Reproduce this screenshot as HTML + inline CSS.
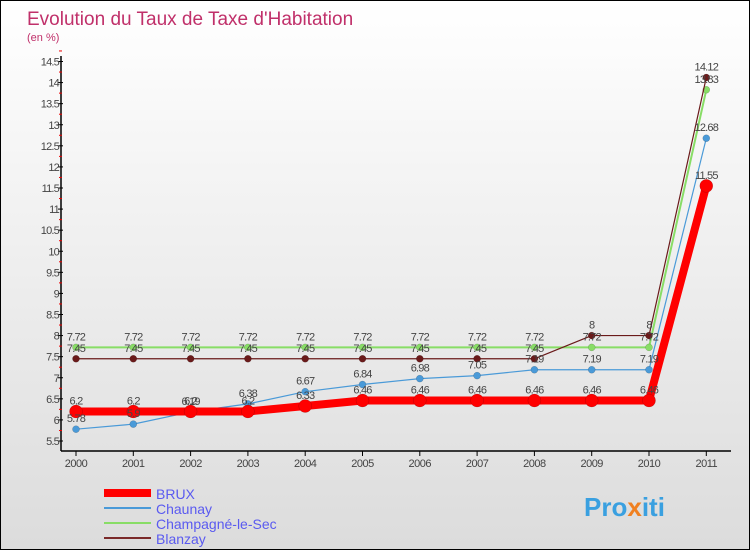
<!DOCTYPE html>
<html><head><meta charset="utf-8"><style>
body{margin:0}
#c{width:750px;height:550px;position:relative;overflow:hidden;background:linear-gradient(#ffffff,#dcdcdc);font-family:"Liberation Sans",sans-serif;border:1px solid #000;box-sizing:border-box}
</style></head><body>
<div id="c">
<svg id="s" width="750" height="550" xmlns="http://www.w3.org/2000/svg">
<text x="26" y="24" font-size="19" fill="#c0306a">Evolution du Taux de Taxe d'Habitation</text>
<text x="26" y="40" font-size="11" fill="#c0306a">(en %)</text>
<g id="axes"></g><g id="series"></g><g id="labels"></g>
<g>
<line x1="103" y1="492" x2="150" y2="492" stroke="#ff0000" stroke-width="8"/>
<text x="155" y="498" font-size="14" fill="#5a5af0">BRUX</text>
<line x1="103" y1="507" x2="150" y2="507" stroke="#4a9ad8" stroke-width="2"/>
<text x="155" y="513" font-size="14" fill="#5a5af0">Chaunay</text>
<line x1="103" y1="522" x2="150" y2="522" stroke="#88dd66" stroke-width="2"/>
<text x="155" y="528" font-size="14" fill="#5a5af0">Champagné-le-Sec</text>
<line x1="103" y1="537" x2="150" y2="537" stroke="#7a2a2a" stroke-width="2"/>
<text x="155" y="543" font-size="14" fill="#5a5af0">Blanzay</text>
</g>
<text x="583" y="515" font-size="26" font-weight="bold" fill="#3aa0e0">Pro<tspan fill="#f08020">x</tspan>iti</text>
</svg>
</div>
<script>
const years=["2000","2001","2002","2003","2004","2005","2006","2007","2008","2009","2010","2011"];
const brux=[6.2,6.2,6.2,6.2,6.33,6.46,6.46,6.46,6.46,6.46,6.46,11.55];
const chaunay=[5.78,5.9,6.19,6.38,6.67,6.84,6.98,7.05,7.19,7.19,7.19,12.68];
const champagne=[7.72,7.72,7.72,7.72,7.72,7.72,7.72,7.72,7.72,7.72,7.72,13.83];
const blanzay=[7.45,7.45,7.45,7.45,7.45,7.45,7.45,7.45,7.45,8,8,14.12];
const yTicks=[5.5,6,6.5,7,7.5,8,8.5,9,9.5,10,10.5,11,11.5,12,12.5,13,13.5,14,14.5];
const NS="http://www.w3.org/2000/svg";
const X=i=>75+i*57.3;
const Y=v=>440-(v-5.5)*(379.5/9);
function mk(t,a,p){const e=document.createElementNS(NS,t);for(const k in a)e.setAttribute(k,a[k]);p.appendChild(e);return e;}
const ax=document.getElementById('axes');
let l=mk('line',{x1:60,y1:55,x2:60,y2:450,stroke:'#000','stroke-width':1.5},ax);


l=mk('line',{x1:60,y1:450,x2:730,y2:450,stroke:'#000','stroke-width':1.5},ax);


yTicks.forEach(v=>{
 const t=mk('line',{x1:57,y1:Y(v),x2:62,y2:Y(v),stroke:'#000'},ax);
 
 
 const r=mk('line',{x1:58,y1:Y(v+0.25),x2:61,y2:Y(v+0.25),stroke:'#e00'},ax);
 
 
 const tx=mk('text',{x:58,y:Y(v)+4,'font-size':11,'text-anchor':'end',fill:'#444','letter-spacing':'-0.8'},ax);
 tx.textContent=String(v);
 
 
});
years.forEach((y,i)=>{
 const t=mk('line',{x1:X(i),y1:450,x2:X(i),y2:455,stroke:'#000'},ax);
 
 
 const tx=mk('text',{x:X(i),y:466,'font-size':11,'text-anchor':'middle',fill:'#444','letter-spacing':'-0.5'},ax);
 tx.textContent=y;
 
 
});
const sg=document.getElementById('series'),lg=document.getElementById('labels');
function draw(vals,color,w,r,name,lab){
 const p=mk('polyline',{points:vals.map((v,i)=>X(i)+','+Y(v)).join(' '),fill:'none',stroke:color,'stroke-width':w,'stroke-linejoin':'round'},sg);
 
 
 vals.forEach((v,i)=>{
  const c=mk('circle',{cx:X(i),cy:Y(v),r:r,fill:color,stroke:'rgba(0,0,0,0.25)','stroke-width':0.5},sg);
  
  
  if(lab){const t=mk('text',{x:X(i),y:Y(v)-7,'font-size':11,'text-anchor':'middle',fill:'#444','letter-spacing':'-0.8'},lg);
  t.textContent=String(v);
  
  }
 });
}
draw(champagne,'#88dd66',2,3.5,'champagne',true);
draw(blanzay,'#6a1a1a',1.2,3.5,'blanzay',true);
draw(chaunay,'#4a9ad8',1.2,3.5,'chaunay',true);
draw(brux,'#ff0000',8,6.5,'brux',true);
</script>
</body></html>
